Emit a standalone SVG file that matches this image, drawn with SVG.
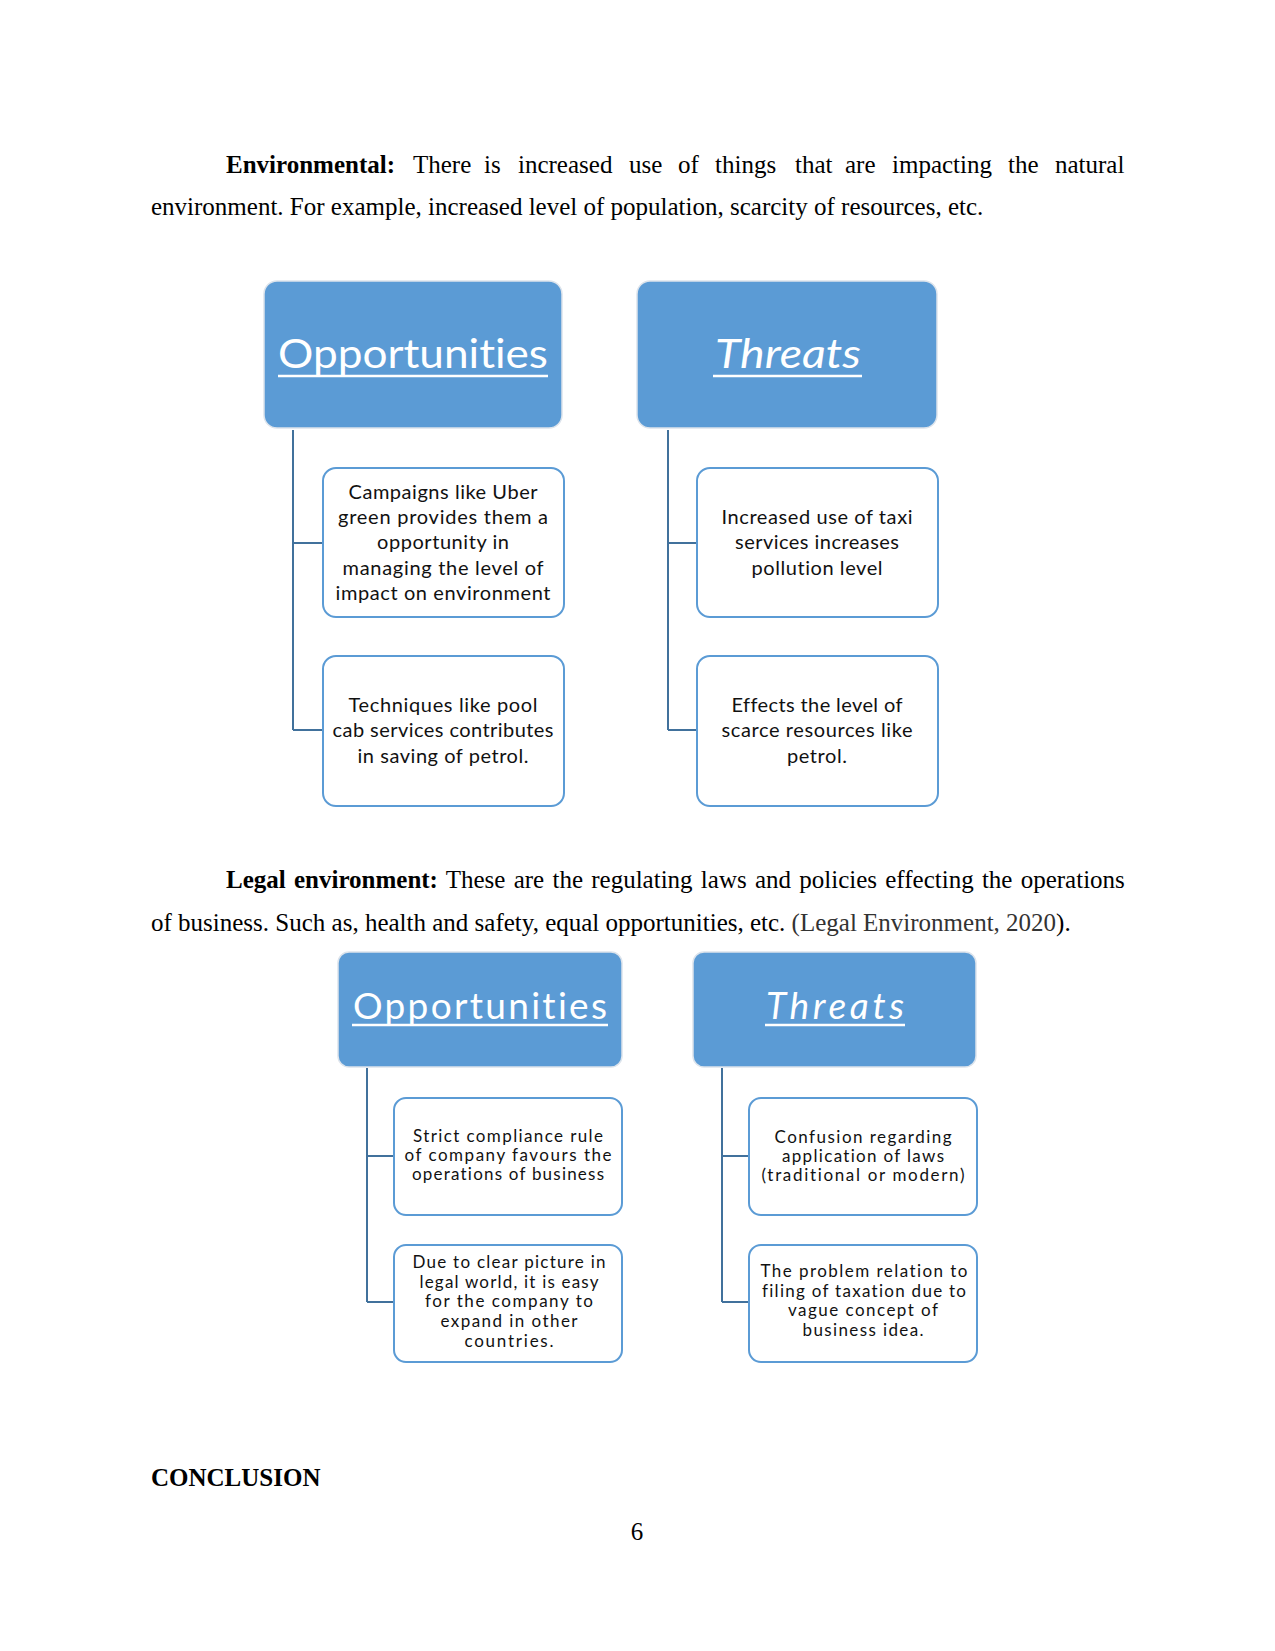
<svg xmlns="http://www.w3.org/2000/svg" width="1275" height="1651" viewBox="0 0 1275 1651">
<style>
.p{font-family:"Liberation Serif","Times New Roman",serif;font-size:25px;fill:#000}
.b{font-weight:bold}
.hd{fill:#5b9bd5;stroke:#dde4ec;stroke-width:1.5}
.ht{font-family:Lato,"Open Sans",sans-serif;fill:#fff;text-anchor:middle;font-variant-ligatures:none}
.ul{stroke:#fff;stroke-width:2.5}
.bx{fill:#fff;stroke:#5b9bd5;stroke-width:2}
.t1{font-family:Lato,"Open Sans",sans-serif;font-size:20px;fill:#111;text-anchor:middle;font-variant-ligatures:none}
.t2{font-family:Lato,"Open Sans",sans-serif;font-size:17px;fill:#111;text-anchor:middle;font-variant-ligatures:none}
.cn{fill:none;stroke:#41719c;stroke-width:2}
</style>
<rect width="1275" height="1651" fill="#fff"/>

<g id="para-environmental">
<text class="p" y="173"><tspan x="226" class="b">Environmental:</tspan><tspan x="413">There</tspan><tspan x="484">is</tspan><tspan x="518">increased</tspan><tspan x="629">use</tspan><tspan x="678">of</tspan><tspan x="715">things</tspan><tspan x="795">that</tspan><tspan x="845">are</tspan><tspan x="892">impacting</tspan><tspan x="1008">the</tspan><tspan x="1055">natural</tspan></text>
<text class="p" x="151" y="215">environment. For example, increased level of population, scarcity of resources, etc.</text>
</g>

<g id="connectors">
<path class="cn" d="M293 430 V730 M293 543 H323 M293 730 H323"/>
<path class="cn" d="M668 430 V730 M668 543 H697 M668 730 H697"/>
<path class="cn" d="M367 1068 V1302 M367 1156 H394 M367 1302 H394"/>
<path class="cn" d="M722 1068 V1302 M722 1156 H749 M722 1302 H749"/>
</g>

<g id="env-opportunities">
<rect class="hd" x="264" y="281" width="298" height="147" rx="13"/>
<text class="ht" x="413" y="368" font-size="41" textLength="270" lengthAdjust="spacingAndGlyphs">Opportunities</text>
<line class="ul" x1="278" y1="376" x2="548" y2="376"/>
</g>
<g id="env-threats">
<rect class="hd" x="637" y="281" width="300" height="147" rx="13"/>
<text class="ht" x="788" y="368" font-size="41" font-style="italic" textLength="146" lengthAdjust="spacingAndGlyphs">Threats</text>
<line class="ul" x1="713" y1="376" x2="862" y2="376"/>
</g>
<g id="env-opp-1">
<rect class="bx" x="323" y="468" width="241" height="149" rx="13"/>
<text class="t1"><tspan x="443" y="499" textLength="189">Campaigns like Uber</tspan><tspan x="443" y="524" textLength="210">green provides them a</tspan><tspan x="443" y="549" textLength="132">opportunity in</tspan><tspan x="443" y="575" textLength="201">managing the level of</tspan><tspan x="443" y="600" textLength="215">impact on environment</tspan></text>
</g>
<g id="env-opp-2">
<rect class="bx" x="323" y="656" width="241" height="150" rx="13"/>
<text class="t1"><tspan x="443" y="712" textLength="189">Techniques like pool</tspan><tspan x="443" y="737" textLength="221">cab services contributes</tspan><tspan x="443" y="763" textLength="171">in saving of petrol.</tspan></text>
</g>
<g id="env-thr-1">
<rect class="bx" x="697" y="468" width="241" height="149" rx="13"/>
<text class="t1"><tspan x="817" y="524" textLength="191">Increased use of taxi</tspan><tspan x="817" y="549" textLength="164">services increases</tspan><tspan x="817" y="575" textLength="131">pollution level</tspan></text>
</g>
<g id="env-thr-2">
<rect class="bx" x="697" y="656" width="241" height="150" rx="13"/>
<text class="t1"><tspan x="817" y="712" textLength="171">Effects the level of</tspan><tspan x="817" y="737" textLength="191">scarce resources like</tspan><tspan x="817" y="763" textLength="60">petrol.</tspan></text>
</g>

<g id="para-legal">
<text class="p" x="226" y="888" word-spacing="2"><tspan class="b">Legal environment:</tspan> These are the regulating laws and policies effecting the operations</text>
<text class="p" x="151" y="931">of business. Such as, health and safety, equal opportunities, etc. <tspan fill="#333">(Legal Environment, 2020</tspan>).</text>
</g>

<g id="legal-opportunities">
<rect class="hd" x="338" y="952" width="284" height="115" rx="11"/>
<text class="ht" x="480" y="1019" font-size="37" textLength="254" lengthAdjust="spacing">Opportunities</text>
<line class="ul" x1="352" y1="1025" x2="608" y2="1025"/>
</g>
<g id="legal-threats">
<rect class="hd" x="693" y="952" width="283" height="115" rx="11"/>
<text class="ht" x="835" y="1019" font-size="37" font-style="italic" textLength="138" lengthAdjust="spacing">Threats</text>
<line class="ul" x1="765" y1="1025" x2="905" y2="1025"/>
</g>
<g id="legal-opp-1">
<rect class="bx" x="394" y="1098" width="228" height="117" rx="12"/>
<text class="t2"><tspan x="508" y="1142" textLength="190">Strict compliance rule</tspan><tspan x="508" y="1161" textLength="207">of company favours the</tspan><tspan x="508" y="1180" textLength="192">operations of business</tspan></text>
</g>
<g id="legal-opp-2">
<rect class="bx" x="394" y="1245" width="228" height="117" rx="12"/>
<text class="t2"><tspan x="509" y="1268" textLength="193">Due to clear picture in</tspan><tspan x="509" y="1288" textLength="179">legal world, it is easy</tspan><tspan x="509" y="1307" textLength="168">for the company to</tspan><tspan x="509" y="1327" textLength="137">expand in other</tspan><tspan x="509" y="1347" textLength="89">countries.</tspan></text>
</g>
<g id="legal-thr-1">
<rect class="bx" x="749" y="1098" width="228" height="117" rx="12"/>
<text class="t2"><tspan x="863" y="1143" textLength="177">Confusion regarding</tspan><tspan x="863" y="1162" textLength="162">application of laws</tspan><tspan x="863" y="1181" textLength="203">(traditional or modern)</tspan></text>
</g>
<g id="legal-thr-2">
<rect class="bx" x="749" y="1245" width="228" height="117" rx="12"/>
<text class="t2"><tspan x="864" y="1277" textLength="207">The problem relation to</tspan><tspan x="864" y="1297" textLength="204">filing of taxation due to</tspan><tspan x="863" y="1316" textLength="150">vague concept of</tspan><tspan x="863" y="1336" textLength="121">business idea.</tspan></text>
</g>

<text class="p b" x="151" y="1486">CONCLUSION</text>
<text class="p" x="637" y="1540" text-anchor="middle">6</text>
</svg>
